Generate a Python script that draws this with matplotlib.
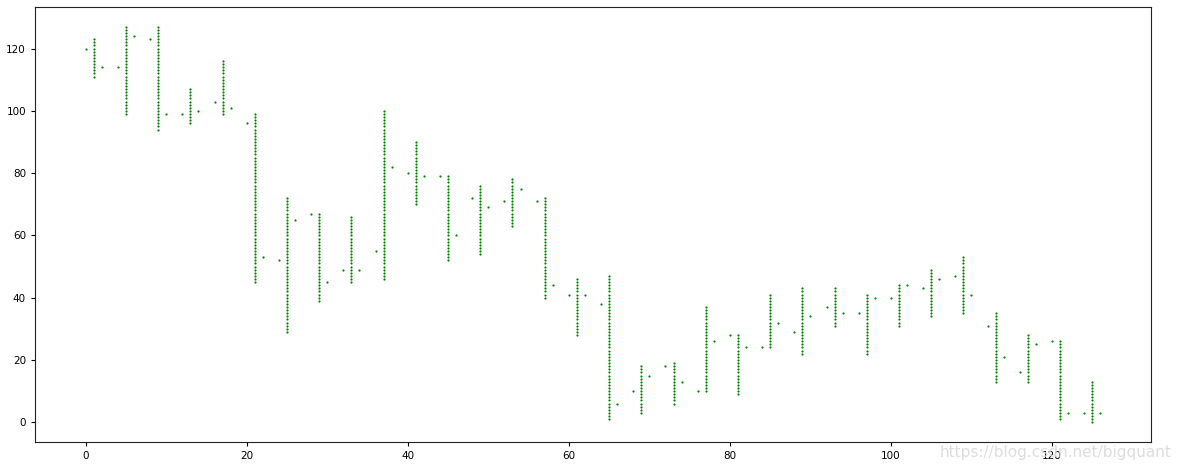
import matplotlib
matplotlib.use("Agg")
from matplotlib import pyplot as plt

# one group of 4 x slots per period: open at 4k, low..high stack at 4k+1, close at 4k+2
opens = [120, 114, 123, 99, 103, 96, 52, 67, 49, 55, 80, 79, 72, 71, 71, 41,
         38, 10, 18, 10, 28, 24, 29, 37, 35, 40, 43, 47, 31, 16, 26, 3]
highs = [123, 127, 127, 107, 116, 99, 72, 67, 66, 100, 90, 79, 76, 78, 72, 46,
         47, 18, 19, 37, 28, 41, 43, 43, 41, 44, 49, 53, 35, 28, 26, 13]
lows = [111, 99, 94, 96, 99, 45, 29, 39, 45, 46, 70, 52, 54, 63, 40, 28,
        1, 3, 6, 10, 9, 24, 22, 31, 22, 31, 34, 35, 13, 13, 1, 0]
closes = [114, 124, 99, 100, 101, 53, 65, 45, 49, 82, 79, 60, 69, 75, 44, 41,
          6, 15, 13, 26, 24, 32, 34, 35, 40, 44, 46, 41, 21, 25, 3, 3]

xs = []
ys = []
for k in range(len(opens)):
    xs.append(4 * k)
    ys.append(opens[k])
    for v in range(lows[k], highs[k] + 1):
        xs.append(4 * k + 1)
        ys.append(v)
    xs.append(4 * k + 2)
    ys.append(closes[k])

fig = plt.figure(figsize=(11.77, 4.69), dpi=100)
ax = fig.add_axes([35 / 1177, 27 / 469, 1116 / 1177, 435 / 469])
ax.scatter(xs, ys, s=2.5, color='g', marker='o', linewidths=0)
ax.tick_params(labelsize=7.5, length=3)
for sp in ax.spines.values():
    sp.set_color('#222222')

fig.text(0.995, 0.02, 'https://blog.csdn.net/bigquant', ha='right', va='bottom',
         fontsize=11, color='#dddddd')

fig.savefig('out.png', dpi=100)
